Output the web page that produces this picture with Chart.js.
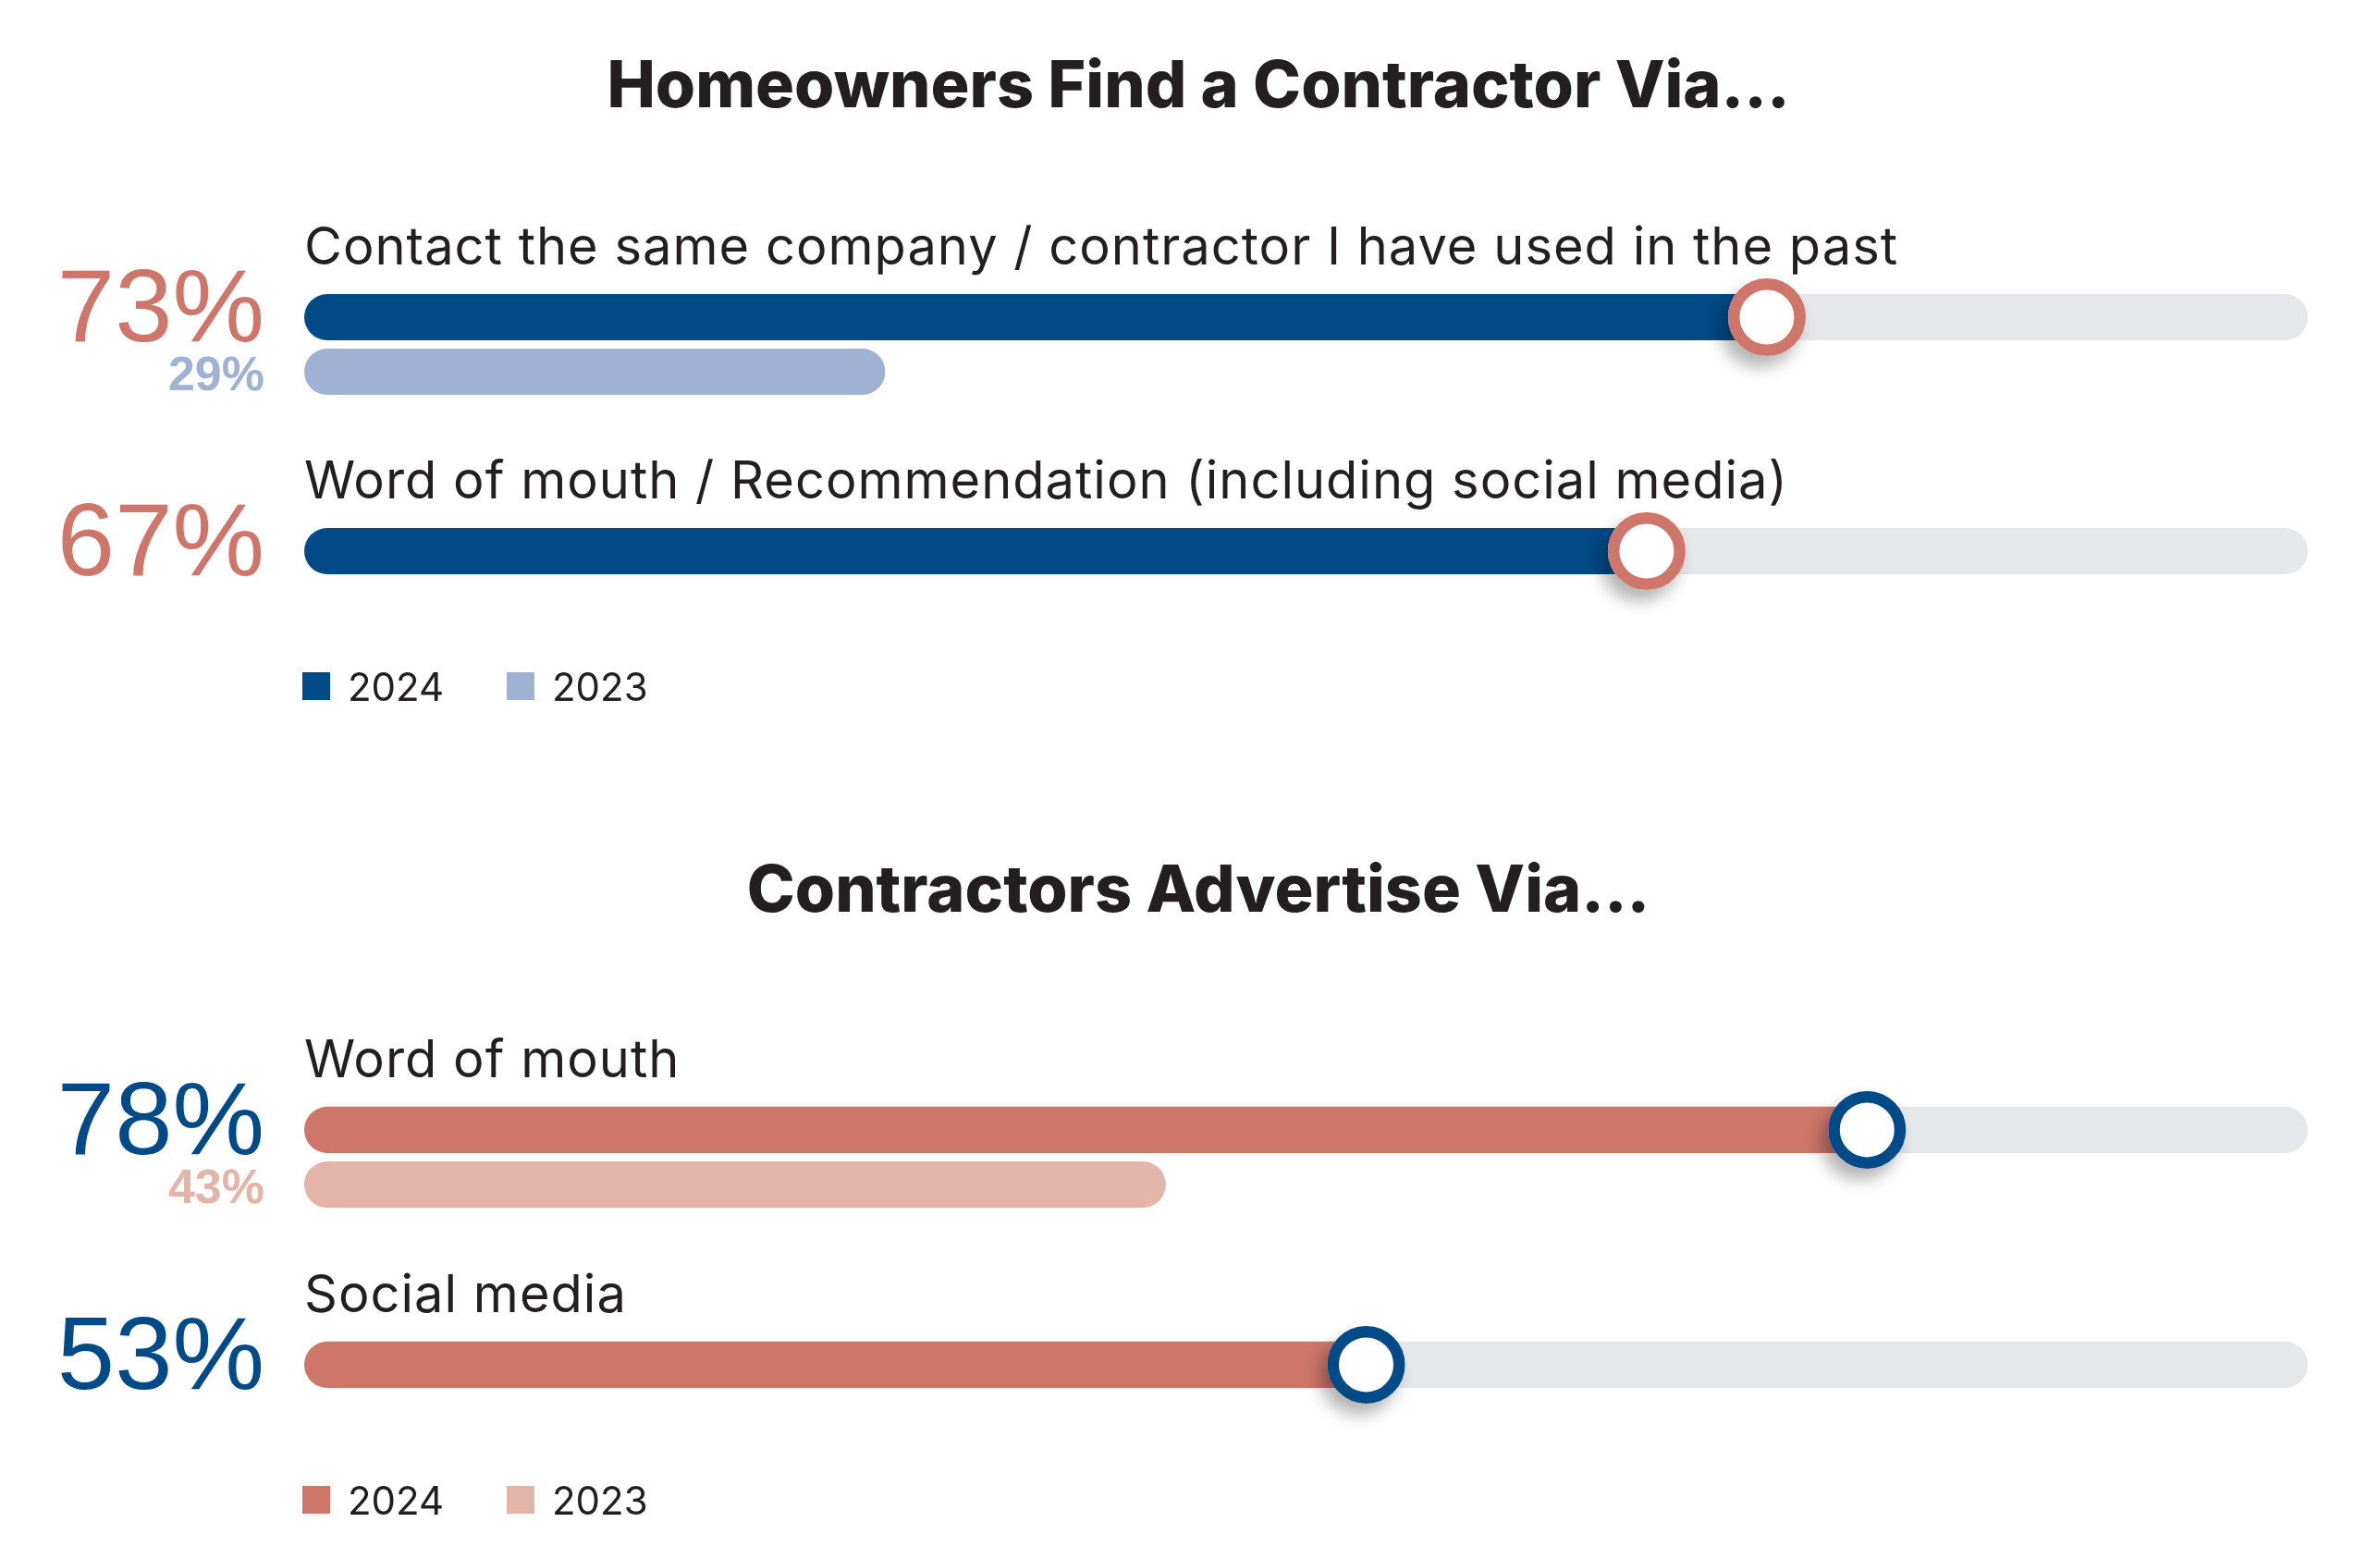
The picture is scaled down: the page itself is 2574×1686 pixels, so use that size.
<!DOCTYPE html>
<html>
<head>
<meta charset="utf-8">
<script src="https://cdn.jsdelivr.net/npm/chart.js@4.4.1/dist/chart.umd.min.js"></script>
<style>
  html, body { margin: 0; padding: 0; background: #fff; }
  body { width: 2574px; height: 1686px; position: relative; overflow: hidden; }
  canvas { position: absolute; left: 0; }
  #homeowners { top: 0; }
  #contractors { top: 843px; }
</style>
</head>
<body>
<canvas id="homeowners" width="2574" height="843"></canvas>
<canvas id="contractors" width="2574" height="843"></canvas>
<script>
// data
var years = ['2024', '2023'];

var homeTitle = 'Homeowners Find a Contractor Via...';
var homeLabels = [
    'Contact the same company / contractor I have used in the past',
    'Word of mouth / Recommendation (including social media)'
];
var home2024 = [73, 67];
var home2023 = [29, null];

var contTitle = 'Contractors Advertise Via...';
var contLabels = ['Word of mouth', 'Social media'];
var cont2024 = [78, 53];
var cont2023 = [43, null];

var NAVY = '#004a87', NAVY_LIGHT = '#9fb2d4';
var SALMON = '#cf766a', SALMON_LIGHT = '#e3b5a9';
var TRACK = '#e5e7ea', INK = '#231f20';

// draws labels, percentages, the slider knobs, title and legend
var sliderPlugin = {
    id: 'slider',
    afterDatasetsDraw: function (chart, args, opts) {
        var ctx = chart.ctx, area = chart.chartArea, ds = chart.data.datasets;
        var cur = chart.getDatasetMeta(0), prev = chart.getDatasetMeta(2);
        var numX = area.left - 43;
        ctx.save();
        ctx.textBaseline = 'alphabetic';

        ctx.fillStyle = INK;
        ctx.textAlign = 'center';
        ctx.font = '800 70px Inter';
        ctx.fillText(opts.title, 1296, opts.titleY);

        cur.data.forEach(function (bar, i) {
            var top = bar.y - bar.height / 2, bottom = bar.y + bar.height / 2;

            ctx.textAlign = 'left';
            ctx.fillStyle = INK;
            ctx.font = '400 56px Inter';
            ctx.letterSpacing = '1px';
            ctx.fillText(chart.data.labels[i], area.left, top - 32);
            ctx.letterSpacing = '0px';

            ctx.textAlign = 'right';
            ctx.fillStyle = opts.accent;
            ctx.font = '400 112px "Liberation Sans"';
            ctx.fillText(ds[0].data[i] + '%', numX, bottom + 1);

            if (ds[2].data[i] != null) {
                ctx.fillStyle = ds[2].backgroundColor;
                ctx.font = '700 52px "Liberation Sans"';
                ctx.fillText(ds[2].data[i] + '%', numX, prev.data[i].y + 20);
            }

            // knob with soft drop shadow
            ctx.save();
            ctx.shadowColor = 'rgba(0,0,0,0.30)';
            ctx.shadowBlur = 18;
            ctx.shadowOffsetX = -8;
            ctx.shadowOffsetY = 12;
            ctx.beginPath();
            ctx.arc(bar.x, bar.y, 42, 0, Math.PI * 2);
            ctx.fillStyle = '#fff';
            ctx.fill();
            ctx.restore();
            ctx.beginPath();
            ctx.arc(bar.x, bar.y, 35.75, 0, Math.PI * 2);
            ctx.lineWidth = 12.5;
            ctx.strokeStyle = opts.accent;
            ctx.stroke();
        });

        // legend
        var last = cur.data[cur.data.length - 1];
        var ly = last.y + 146;
        [0, 2].forEach(function (d, k) {
            var x = area.left - 2 + k * 221;
            ctx.fillStyle = ds[d].backgroundColor;
            ctx.fillRect(x, ly - 15, 30, 30);
            ctx.fillStyle = INK;
            ctx.textAlign = 'left';
            ctx.font = '400 42px Inter';
            ctx.fillText(ds[d].label, x + 49, ly + 16);
        });
        ctx.restore();
    }
};

function sliderChart(id, title, titleY, labels, cur, prev, main, light, accent, pad) {
    var r = 25;
    return new Chart(document.getElementById(id), {
        type: 'bar',
        data: {
            labels: labels,
            datasets: [{
                label: years[0],
                data: cur,
                stack: 'cur',
                backgroundColor: main,
                borderSkipped: false,
                borderRadius: { topLeft: r, bottomLeft: r, topRight: 0, bottomRight: 0 }
            }, {
                label: 'track',
                data: cur.map(function (v) { return 100 - v; }),
                stack: 'cur',
                backgroundColor: TRACK,
                borderSkipped: false,
                borderRadius: { topLeft: 0, bottomLeft: 0, topRight: r, bottomRight: r }
            }, {
                label: years[1],
                data: prev,
                stack: 'prev',
                backgroundColor: light,
                borderSkipped: false,
                borderRadius: { topLeft: r, bottomLeft: r, topRight: r, bottomRight: r }
            }]
        },
        options: {
            indexAxis: 'y',
            responsive: false,
            devicePixelRatio: 1,
            animation: false,
            events: [],
            categoryPercentage: 0.466,
            barPercentage: 0.847,
            layout: { padding: pad },
            scales: {
                x: { display: false, min: 0, max: 100, stacked: true },
                y: { display: false }
            },
            plugins: {
                legend: { display: false },
                tooltip: { enabled: false },
                slider: { title: title, titleY: titleY, accent: accent }
            }
        },
        plugins: [sliderPlugin]
    });
}

sliderChart('homeowners', homeTitle, 116, homeLabels, home2024, home2023,
    NAVY, NAVY_LIGHT, SALMON, { left: 329, right: 78, top: 246, bottom: 91 });
sliderChart('contractors', contTitle, 143, contLabels, cont2024, cont2023,
    SALMON, SALMON_LIGHT, NAVY, { left: 329, right: 78, top: 281.5, bottom: 53.5 });
</script>
</body>
</html>
